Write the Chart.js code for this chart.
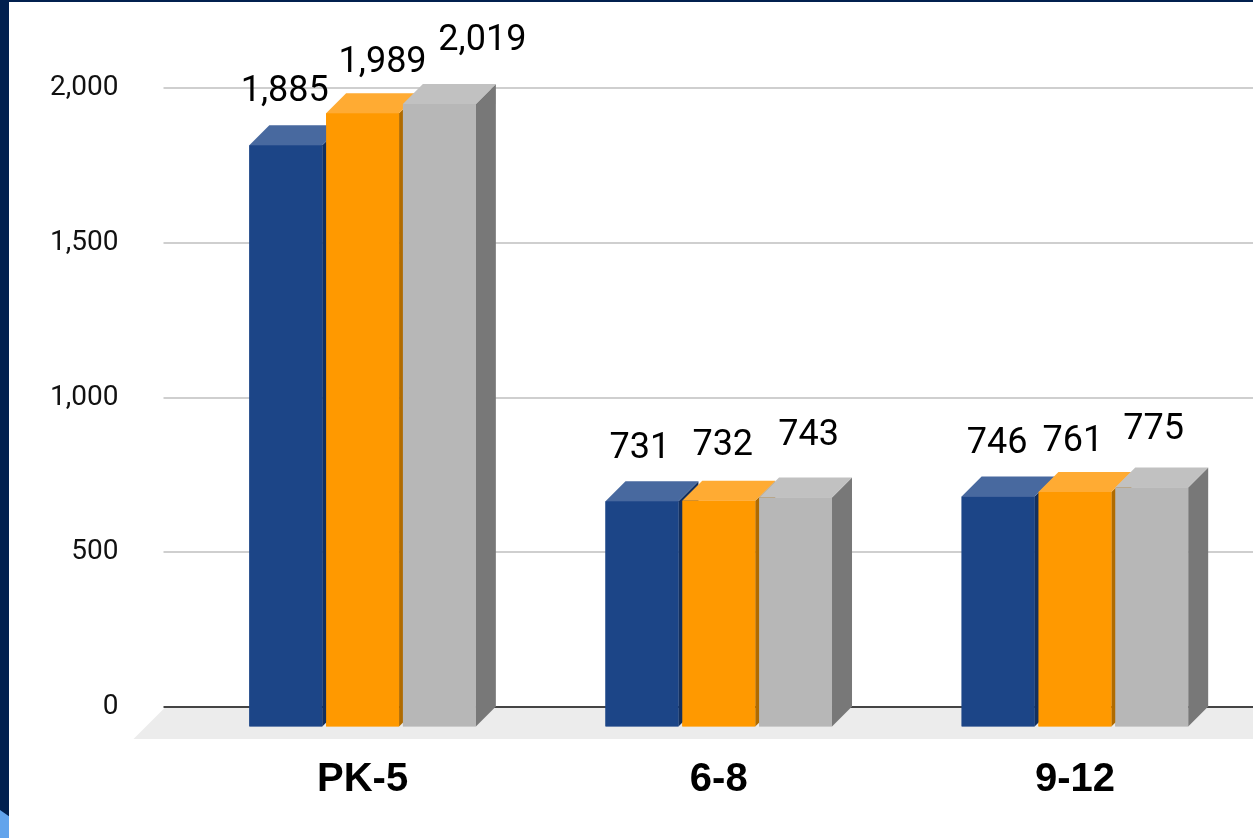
<!DOCTYPE html>
<html>
<head>
<meta charset="utf-8">
<script src="https://cdn.jsdelivr.net/npm/chart.js@4"></script>
<style>
html,body{margin:0;padding:0;background:#fff;width:1253px;height:838px;overflow:hidden}
canvas{position:absolute;left:0;top:0}
.edgeTop{position:absolute;left:0;top:0;width:1253px;height:2px;background:#01204f}
.edgeLeft{position:absolute;left:0;top:0;width:9px;height:838px;background:#01204f}
.corner{position:absolute;left:0;top:810px;width:9px;height:28px;background:#62a4ec;clip-path:polygon(0 0,100% 22%,100% 100%,0 100%)}
</style>
</head>
<body>
<canvas id="c" width="1253" height="838"></canvas>
<div class="edgeTop"></div><div class="edgeLeft"></div><div class="corner"></div>
<script>
const categories = ['PK-5', '6-8', '9-12'];
const seriesA = [1885, 731, 746];
const seriesB = [1989, 732, 761];
const seriesC = [2019, 743, 775];
const yTicks = [0, 500, 1000, 1500, 2000];

const frontColors = ['#1c4587', '#ff9900', '#b7b7b7'];
const topColors   = ['#48699f', '#ffab33', '#c1c1c1'];
const sideColors  = ['#14305e', '#b06b00', '#787878'];
const DEPTH = 20;
// hand placement of each value label: [dx from bar centre, dy from back top edge]
const labelNudge = [
  [[-1,-33],[-2,-32],[-1,-33]],
  [[20,-30],[4,-35],[-2,-30]],
  [[43,-43],[13,-41],[2,-38]]
];

const pseudo3d = {
  id: 'pseudo3d',
  beforeDraw(chart) {
    const {ctx, chartArea: a, scales: {y}} = chart;
    const y0 = y.getPixelForValue(0);
    ctx.save();
    ctx.fillStyle = '#ececec';
    ctx.beginPath();
    ctx.moveTo(a.left - 19, y0);
    ctx.lineTo(a.right, y0);
    ctx.lineTo(a.right, y0 + 32);
    ctx.lineTo(a.left - 51, y0 + 32);
    ctx.closePath();
    ctx.fill();
    ctx.restore();
  },
  afterDatasetsDraw(chart) {
    const ctx = chart.ctx;
    chart.data.datasets.forEach((ds, i) => {
      chart.getDatasetMeta(i).data.forEach(el => {
        const p = el.getProps(['x','y','base','width'], true);
        const l = p.x - p.width/2, r = p.x + p.width/2;
        ctx.fillStyle = sideColors[i];
        ctx.beginPath();
        ctx.moveTo(r, p.y); ctx.lineTo(r+DEPTH, p.y-DEPTH);
        ctx.lineTo(r+DEPTH, p.base-DEPTH); ctx.lineTo(r, p.base);
        ctx.closePath(); ctx.fill();
        ctx.fillStyle = topColors[i];
        ctx.beginPath();
        ctx.moveTo(l, p.y); ctx.lineTo(l+DEPTH, p.y-DEPTH);
        ctx.lineTo(r+DEPTH, p.y-DEPTH); ctx.lineTo(r, p.y);
        ctx.closePath(); ctx.fill();
        el.draw(ctx);
      });
    });
    ctx.save();
    ctx.fillStyle = '#000';
    ctx.font = '36px Roboto';
    ctx.textAlign = 'center';
    ctx.textBaseline = 'middle';
    chart.data.datasets.forEach((ds, i) => {
      chart.getDatasetMeta(i).data.forEach((el, j) => {
        const n = labelNudge[i][j];
        ctx.fillText(ds.data[j].toLocaleString('en-US'), el.x + n[0], el.y - DEPTH + n[1]);
      });
    });
    ctx.restore();
  }
};

new Chart(document.getElementById('c'), {
  type: 'bar',
  data: {
    labels: categories,
    datasets: [seriesA, seriesB, seriesC].map((d, i) => ({
      data: d,
      yAxisID: 'yFront',
      backgroundColor: frontColors[i],
      hoverBackgroundColor: frontColors[i],
      borderWidth: 0,
      barPercentage: 0.95,
      categoryPercentage: 0.6468
    }))
  },
  plugins: [pseudo3d],
  options: {
    responsive: false,
    animation: false,
    events: [],
    devicePixelRatio: 1,
    layout: {padding: {top: 20, left: 0, right: 0, bottom: 0}},
    plugins: {legend: {display: false}, tooltip: {enabled: false}, title: {display: false}},
    scales: {
      x: {
        offset: true,
        grid: {display: false},
        border: {display: false},
        afterFit(s) { s.height = 111.5; },
        ticks: {
          color: '#000',
          font: {family: '"Liberation Sans"', size: 40, weight: 'bold'},
          padding: 21, maxRotation: 0, autoSkip: false
        }
      },
      y: {
        position: 'left',
        min: -63.1,
        max: 2086,
        afterFit(s) { s.width = 184.5; },
        afterBuildTicks(s) { s.ticks = yTicks.map(v => ({value: v})); },
        border: {display: false},
        grid: {
          drawTicks: true,
          tickLength: 21,
          lineWidth: 2,
          color: c => c.tick && c.tick.value === 0 ? '#444444' : '#cfcfcf',
          tickColor: c => c.tick && c.tick.value === 0 ? '#444444' : '#cfcfcf'
        },
        ticks: {
          color: '#111',
          font: {family: 'Roboto', size: 28},
          padding: 45,
          autoSkip: false,
          callback: v => Number(v).toLocaleString('en-US')
        }
      },
      yFront: {
        display: false,
        position: 'left',
        min: 0,
        max: 2156,
        grid: {display: false}
      }
    }
  }
});
</script>
</body>
</html>
